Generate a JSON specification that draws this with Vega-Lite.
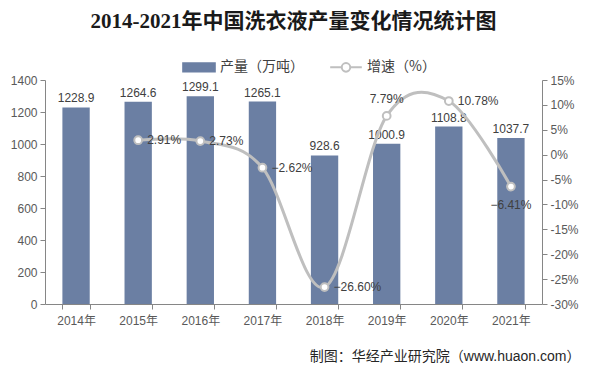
{
  "$schema": "https://vega.github.io/schema/vega-lite/v6.json",
  "autosize": "none",
  "width": 497,
  "height": 224,
  "padding": {"left": 45, "top": 80, "right": 50, "bottom": 69},
  "background": "white",
  "title": {
    "text": "2014-2021年中国洗衣液产量变化情况统计图",
    "font": "Liberation Serif, Noto Sans CJK SC",
    "fontSize": 21,
    "fontWeight": "bold",
    "color": "#1a1a1a",
    "anchor": "middle",
    "offset": 18
  },
  "config": {
    "view": {"stroke": null},
    "font": "Liberation Sans, Noto Sans CJK SC",
    "axis": {"labelFont": "Liberation Sans, Noto Sans CJK SC", "labelFontSize": 12, "labelColor": "#595959", "domainColor": "#868686", "tickColor": "#868686", "grid": false, "labelOverlap": false, "labelFlush": false}
  },
  "data": {
    "values": [
      {"year": "2014年", "output": 1228.9, "growth": null},
      {"year": "2015年", "output": 1264.6, "growth": 2.91},
      {"year": "2016年", "output": 1299.1, "growth": 2.73},
      {"year": "2017年", "output": 1265.1, "growth": -2.62},
      {"year": "2018年", "output": 928.6, "growth": -26.60},
      {"year": "2019年", "output": 1000.9, "growth": 7.79},
      {"year": "2020年", "output": 1108.8, "growth": 10.78},
      {"year": "2021年", "output": 1037.7, "growth": -6.41}
    ]
  },
  "encoding": {
    "x": {
      "field": "year", "type": "nominal", "sort": null,
      "scale": {"paddingInner": 0.56, "paddingOuter": 0.28},
      "axis": {
        "labelAngle": 0, "tickBand": "extent", "tickSize": 5, "labelPadding": 6,
        "title": "制图：华经产业研究院（www.huaon.com）",
        "titleFont": "Liberation Sans, Noto Sans CJK SC",
        "titleFontSize": 14, "titleFontWeight": "normal", "titleColor": "#262626",
        "titleAlign": "right", "titleX": 535, "titleY": 52, "titleBaseline": "middle"
      }
    }
  },
  "layer": [
    {
      "encoding": {
        "y": {"field": "output", "type": "quantitative", "scale": {"domain": [0, 1400]},
          "axis": {"values": [0, 200, 400, 600, 800, 1000, 1200, 1400], "format": "d", "title": null, "tickSize": 5, "labelPadding": 3}}
      },
      "layer": [
        {
          "mark": {"type": "bar", "color": "#6b7fa3"},
          "encoding": {
            "color": {"datum": "产量（万吨）", "type": "nominal",
              "scale": {"domain": ["产量（万吨）", "增速（%）"], "range": ["#6b7fa3", "#bfbfbf"]},
              "legend": {
                "orient": "none", "legendX": 137, "legendY": -30, "direction": "horizontal", "title": null,
                "labelFontSize": 14, "labelColor": "#404040", "labelFont": "Noto Sans CJK SC",
                "symbolSize": 1000, "columnPadding": 22, "labelOffset": 4,
                "encode": {
                  "symbols": {
                    "update": {
                      "shape": [
                        {"test": "datum.value === '产量（万吨）'", "value": "M-1,-0.26H1V0.26H-1Z"},
                        {"value": "M-1,0H-0.27A0.27,0.27 0 1,1 0.27,0A0.27,0.27 0 1,1 -0.27,0M0.27,0H1"}
                      ],
                      "fillOpacity": [
                        {"test": "datum.value === '产量（万吨）'", "value": 1},
                        {"value": 0}
                      ],
                      "stroke": [
                        {"test": "datum.value === '产量（万吨）'", "value": "#6b7fa3"},
                        {"value": "#bfbfbf"}
                      ],
                      "strokeWidth": {"value": 2}
                    }
                  }
                }
              }
            }
          }
        },
        {
          "mark": {"type": "text", "dy": -9, "fontSize": 12, "color": "#404040", "font": "Liberation Sans"},
          "encoding": {
            "text": {"field": "output", "type": "quantitative", "format": ".1f"}
          }
        }
      ]
    },
    {
      "transform": [
        {"filter": "datum.growth != null"},
        {"calculate": "format(datum.growth, '.2f') + '%'", "as": "glabel"}
      ],
      "encoding": {
        "y": {"field": "growth", "type": "quantitative", "scale": {"domain": [-30, 15]},
          "axis": {"orient": "right", "title": null, "values": [-30, -25, -20, -15, -10, -5, 0, 5, 10, 15], "labelExpr": "datum.value + '%'", "tickSize": 5, "labelPadding": 3}}
      },
      "layer": [
        {
          "mark": {"type": "line", "interpolate": "cardinal", "color": "#bfbfbf", "strokeWidth": 3},
          "encoding": {
            "color": {"datum": "增速（%）", "type": "nominal"}
          }
        },
        {
          "mark": {"type": "point", "filled": true, "fill": "white", "stroke": "#bfbfbf", "strokeWidth": 2, "size": 60, "opacity": 1}
        },
        {
          "transform": [{"filter": "datum.year != '2019年' && datum.year != '2021年'"}],
          "mark": {"type": "text", "align": "left", "dx": 9, "fontSize": 12, "color": "#404040", "font": "Liberation Sans"},
          "encoding": {"text": {"field": "glabel", "type": "nominal"}}
        },
        {
          "transform": [{"filter": "datum.year == '2019年'"}],
          "mark": {"type": "text", "dy": -17, "fontSize": 12, "color": "#404040", "font": "Liberation Sans"},
          "encoding": {"text": {"field": "glabel", "type": "nominal"}}
        },
        {
          "transform": [{"filter": "datum.year == '2021年'"}],
          "mark": {"type": "text", "dy": 18, "fontSize": 12, "color": "#404040", "font": "Liberation Sans"},
          "encoding": {"text": {"field": "glabel", "type": "nominal"}}
        }
      ]
    }
  ],
  "resolve": {"scale": {"y": "independent"}}
}
